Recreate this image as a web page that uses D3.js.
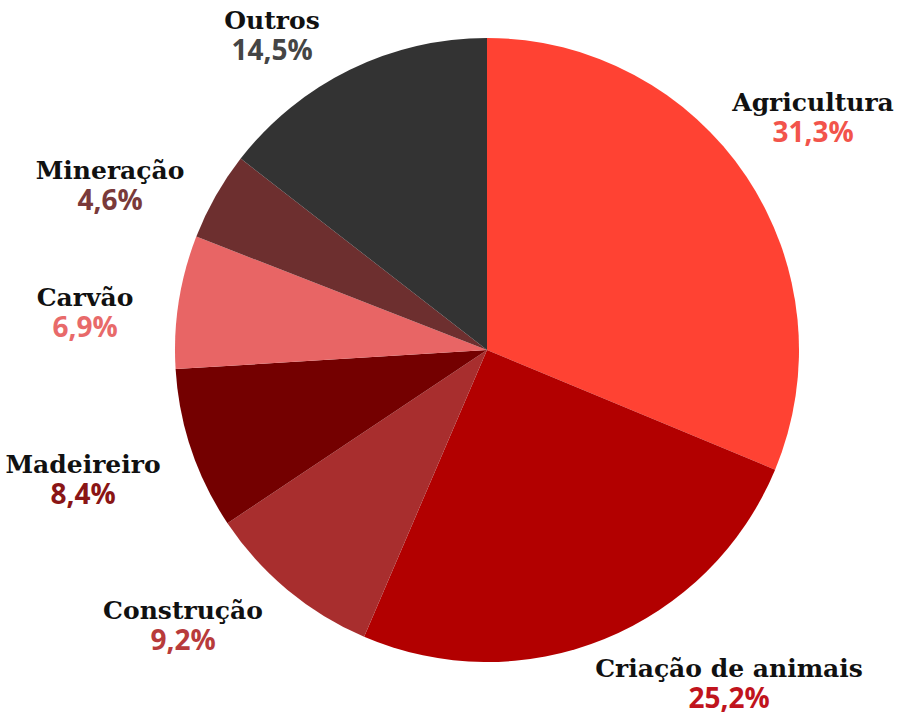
<!DOCTYPE html>
<html>
<head>
<meta charset="utf-8">
<script src="https://cdn.jsdelivr.net/npm/d3@7"></script>
<style>
  body { margin: 0; background: #fff; }
  .name { font-family: "DejaVu Serif", serif; font-weight: bold; fill: #111; }
  .pct { font-family: "Open Sans", "Noto Sans", sans-serif; font-weight: bold; }
</style>
</head>
<body>
<div id="chart"></div>
<script>
var categories = ["Agricultura", "Criação de animais", "Construção", "Madeireiro", "Carvão", "Mineração", "Outros"];
var values = [31.3, 25.2, 9.2, 8.4, 6.9, 4.6, 14.5];
var labels = ["31,3%", "25,2%", "9,2%", "8,4%", "6,9%", "4,6%", "14,5%"];
var colours = ["#ff4233", "#b20000", "#a82e2e", "#740000", "#e86565", "#6d2f2f", "#333333"];
var textColours = ["#f2544b", "#c0141d", "#b83b3b", "#8a1515", "#e86a6a", "#7a3a3a", "#454545"];
// where each label sits (centre of the name line)
var labelPos = [[813, 111], [729, 677], [183, 619], [83, 473], [85, 306], [110, 179], [272, 29]];

var width = 906, height = 717;
var cx = 487, cy = 350, radius = 312;

var svg = d3.select("#chart")
  .append("svg")
  .attr("width", width)
  .attr("height", height);

var pie = d3.pie().sort(null).value(function(d) { return d; });
var arc = d3.arc().innerRadius(0).outerRadius(radius);

var g = svg.append("g").attr("transform", "translate(" + cx + "," + cy + ")");

g.selectAll("path")
  .data(pie(values))
  .enter()
  .append("path")
  .attr("d", arc)
  .attr("fill", function(d, i) { return colours[i]; });

var lab = svg.selectAll("g.lab")
  .data(categories)
  .enter()
  .append("g")
  .attr("class", "lab")
  .attr("transform", function(d, i) { return "translate(" + labelPos[i][0] + "," + labelPos[i][1] + ")"; });

lab.append("text")
  .attr("class", "name")
  .attr("text-anchor", "middle")
  .style("font-size", "25px")
  .text(function(d) { return d; });

lab.append("text")
  .attr("class", "pct")
  .attr("text-anchor", "middle")
  .attr("y", 31)
  .style("font-size", "28px")
  .style("fill", function(d, i) { return textColours[i]; })
  .text(function(d, i) { return labels[i]; });
</script>
</body>
</html>
